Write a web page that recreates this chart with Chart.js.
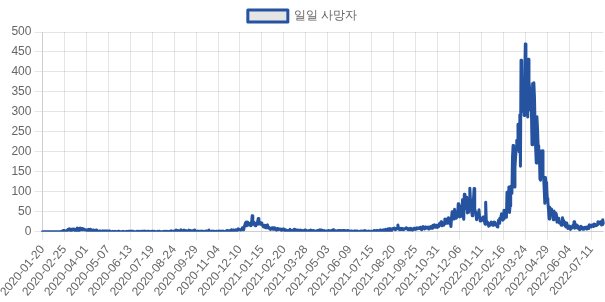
<!DOCTYPE html>
<html>
<head>
<meta charset="utf-8">
<script src="https://cdn.jsdelivr.net/npm/chart.js@4/dist/chart.umd.min.js"></script>
<style>
  html, body { margin: 0; padding: 0; background: #fff; }
  #wrap { width: 605px; height: 302px; }
</style>
</head>
<body>
<div id="wrap"><canvas id="deathChart"></canvas></div>
<script>
// daily deaths, 2020-01-20 .. 2022-07-31 (three days missing in the source)
const startDate = "2020-01-20";
const endDate = "2022-07-31";
const missingDates = ["2020-06-01", "2021-06-01", "2022-07-01"];

const deaths2020 = [
    0,0,0,0,0,0,0,0,0,0,0,0,
    0,0,0,0,0,0,0,0,0,0,0,0,0,0,0,0,0,0,0,1,1,0,3,1,3,1,1,1,1,
    4,6,4,7,6,3,6,3,6,7,7,6,3,3,6,6,9,3,8,2,2,9,9,5,8,5,5,6,6,4,4,
    4,3,5,5,6,2,3,6,4,4,3,4,3,3,3,3,4,2,2,1,1,2,1,2,2,0,2,2,2,2,
    2,2,0,2,2,1,0,1,2,0,0,0,0,1,0,0,0,1,1,0,0,0,1,1,1,1,0,0,0,0,1,
    0,0,0,0,0,1,0,0,1,1,0,1,1,1,1,0,1,1,0,0,0,0,1,1,0,1,0,0,1,
    0,1,1,1,1,1,2,1,0,0,1,1,1,1,1,0,0,1,1,0,0,1,0,0,0,0,0,1,0,1,1,
    0,0,0,0,0,0,1,0,0,1,0,1,0,0,0,1,1,0,2,0,0,1,1,2,2,2,4,3,2,3,1,
    2,2,2,5,2,2,2,1,4,2,2,3,2,2,0,0,4,1,1,3,1,0,2,1,2,4,1,2,0,0,
    0,2,1,0,1,1,1,1,2,2,0,0,1,1,1,2,1,0,1,4,0,0,0,1,2,0,1,1,1,1,0,
    1,0,0,0,2,1,2,1,1,0,1,2,1,0,0,1,2,1,3,2,2,2,1,3,1,5,3,2,4,3,
    3,4,5,4,2,4,7,5,5,5,4,6,5,10,7,5,12,12,22,24,15,24,19,17,20,17,21,15,20,40,19
];

const deaths2021 = [
    25,20,18,15,22,20,19,26,33,20,25,19,21,22,19,16,13,12,16,15,10,10,16,17,10,12,8,9,6,7,10,
    10,6,9,10,6,6,5,4,8,5,6,7,6,6,7,3,5,5,7,4,6,2,4,4,4,1,3,2,
    4,6,3,3,3,2,1,5,6,3,5,4,2,1,4,3,2,1,4,4,2,3,3,1,3,4,2,4,2,2,1,
    2,3,2,1,4,3,1,2,3,1,2,2,1,1,1,3,2,3,4,3,4,2,4,3,3,1,3,3,1,1,
    2,0,2,3,2,2,0,1,3,2,4,5,1,3,1,2,2,1,0,3,1,2,2,3,2,3,1,3,1,3,1,
    2,1,1,3,1,0,2,2,1,1,2,1,0,1,1,2,2,1,1,2,1,0,0,0,1,2,1,2,1,
    2,1,1,3,0,0,1,1,1,2,1,1,1,1,0,1,1,0,3,1,2,1,3,3,1,1,2,3,4,3,1,
    1,4,3,5,3,3,6,2,5,4,7,4,2,8,5,3,7,6,8,7,9,7,5,6,6,9,17,8,7,5,7,
    9,6,8,7,5,5,7,8,9,10,7,6,5,8,6,5,9,7,5,4,6,9,8,9,6,7,10,9,8,9,
    10,8,11,7,5,9,13,10,8,7,12,9,10,11,10,7,12,9,9,13,12,14,9,16,14,17,11,13,16,12,11,
    13,14,20,22,19,25,15,17,16,20,21,32,20,24,29,32,21,35,29,30,21,13,36,50,39,32,39,56,44,34,
    34,47,43,70,43,37,64,63,53,39,80,40,31,94,59,78,58,86,47,49,78,57,109,78,69,51,40,78,81,108,57
];

const deaths2022 = [
    50,47,30,44,44,40,55,36,27,29,34,33,29,37,33,25,19,74,26,25,24,20,14,16,20,20,24,23,17,16,16,
    24,18,20,19,15,12,19,29,21,34,33,37,45,37,29,32,54,46,41,45,36,99,82,61,112,48,65,114,
    112,96,186,216,215,112,161,186,206,229,229,269,251,200,293,164,429,301,319,327,384,291,384,470,393,339,318,287,432,375,360,
    305,348,306,218,371,371,373,338,264,208,172,288,259,215,200,203,132,129,189,181,203,137,137,106,71,136,123,116,83,75,
    56,32,61,49,45,57,42,39,30,52,45,40,47,43,24,24,34,31,22,23,21,16,18,35,28,19,17,24,13,12,22,
    12,8,11,14,9,6,12,9,13,16,11,25,9,10,16,17,12,15,8,9,5,7,14,10,11,8,6,9,7,11,
    10,7,12,11,8,14,17,14,13,12,12,17,14,13,19,15,15,17,16,18,25,19,21,23,25,24,17,18,30,21
];

function buildDates(from, to, skip) {
    const out = [];
    const d = new Date(from + "T00:00:00Z");
    const last = new Date(to + "T00:00:00Z");
    while (d <= last) {
        const s = d.toISOString().slice(0, 10);
        if (!skip.includes(s)) out.push(s);
        d.setUTCDate(d.getUTCDate() + 1);
    }
    return out;
}

const labels = buildDates(startDate, endDate, missingDates);
const deaths = deaths2020.concat(deaths2021, deaths2022);

new Chart(document.getElementById("deathChart"), {
    type: "line",
    data: {
        labels: labels,
        datasets: [{
            label: "일일 사망자",
            data: deaths,
            borderColor: "#2553a0",
            backgroundColor: "rgba(0,0,0,0.1)",
            borderWidth: 3,
            borderJoinStyle: "round",
            borderCapStyle: "round",
            pointRadius: 0,
            tension: 0,
        }],
    },
    options: {
        responsive: true,
        maintainAspectRatio: false,
        animation: false,
        plugins: {
            legend: { position: "top" },
            tooltip: { enabled: false },
        },
        scales: {
            y: {
                min: 0,
                max: 500,
                ticks: { stepSize: 50 },
            },
        },
    },
});
</script>
</body>
</html>
